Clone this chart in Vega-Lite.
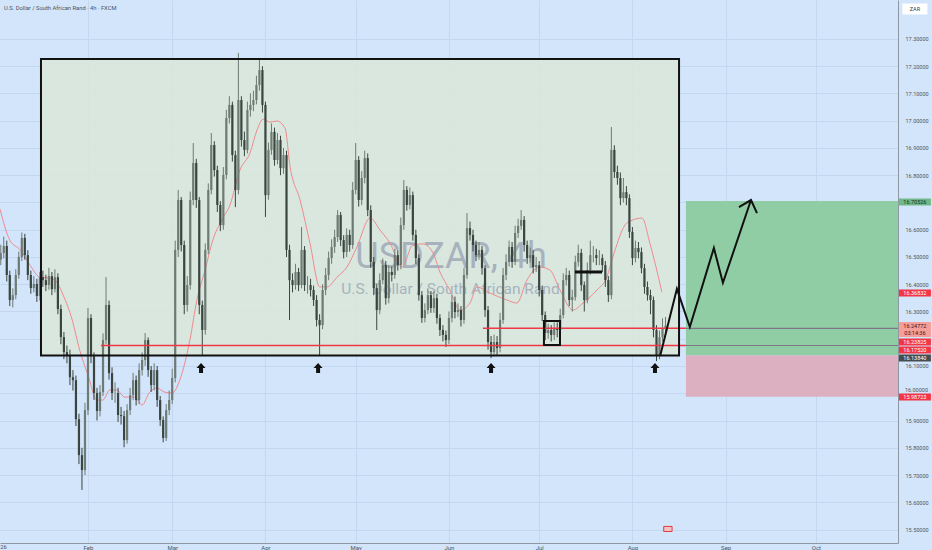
{
  "$schema": "https://vega.github.io/schema/vega-lite/v6.json",
  "width": 898,
  "height": 543,
  "autosize": {"type": "none"},
  "padding": {"left": 0, "top": 0, "right": 34, "bottom": 7},
  "background": "#d2e5fb",
  "config": {"view": {"stroke": null}, "font": "Roboto"},
  "resolve": {"axis": {"x": "independent", "y": "independent"}},
  "datasets": {
    "candles": [
      {"d":"2026-01-03","o":16.490,"h":16.545,"l":16.470,"c":16.515},
      {"d":"2026-01-04","o":16.515,"h":16.575,"l":16.495,"c":16.540},
      {"d":"2026-01-05","o":16.540,"h":16.560,"l":16.410,"c":16.434},
      {"d":"2026-01-06","o":16.434,"h":16.450,"l":16.320,"c":16.342},
      {"d":"2026-01-07","o":16.342,"h":16.385,"l":16.315,"c":16.360},
      {"d":"2026-01-08","o":16.360,"h":16.455,"l":16.345,"c":16.434},
      {"d":"2026-01-09","o":16.434,"h":16.520,"l":16.420,"c":16.500},
      {"d":"2026-01-10","o":16.500,"h":16.590,"l":16.485,"c":16.570},
      {"d":"2026-01-11","o":16.570,"h":16.585,"l":16.490,"c":16.507},
      {"d":"2026-01-12","o":16.507,"h":16.525,"l":16.415,"c":16.434},
      {"d":"2026-01-13","o":16.434,"h":16.450,"l":16.365,"c":16.386},
      {"d":"2026-01-14","o":16.386,"h":16.430,"l":16.370,"c":16.401},
      {"d":"2026-01-15","o":16.401,"h":16.420,"l":16.335,"c":16.357},
      {"d":"2026-01-16","o":16.357,"h":16.445,"l":16.340,"c":16.426},
      {"d":"2026-01-17","o":16.426,"h":16.450,"l":16.390,"c":16.415},
      {"d":"2026-01-18","o":16.415,"h":16.435,"l":16.375,"c":16.397},
      {"d":"2026-01-19","o":16.397,"h":16.460,"l":16.380,"c":16.430},
      {"d":"2026-01-20","o":16.430,"h":16.445,"l":16.360,"c":16.382},
      {"d":"2026-01-21","o":16.382,"h":16.455,"l":16.370,"c":16.426},
      {"d":"2026-01-22","o":16.426,"h":16.440,"l":16.290,"c":16.309},
      {"d":"2026-01-23","o":16.309,"h":16.325,"l":16.180,"c":16.206},
      {"d":"2026-01-24","o":16.206,"h":16.225,"l":16.125,"c":16.151},
      {"d":"2026-01-25","o":16.151,"h":16.175,"l":16.110,"c":16.140},
      {"d":"2026-01-26","o":16.140,"h":16.160,"l":16.030,"c":16.059},
      {"d":"2026-01-27","o":16.059,"h":16.085,"l":16.010,"c":16.048},
      {"d":"2026-01-28","o":16.048,"h":16.065,"l":15.880,"c":15.905},
      {"d":"2026-01-29","o":15.905,"h":15.925,"l":15.740,"c":15.773},
      {"d":"2026-01-30","o":15.773,"h":15.800,"l":15.645,"c":15.718},
      {"d":"2026-01-31","o":15.718,"h":15.965,"l":15.700,"c":15.938},
      {"d":"2026-02-01","o":15.938,"h":16.313,"l":15.920,"c":16.276},
      {"d":"2026-02-02","o":16.276,"h":16.290,"l":16.110,"c":16.136},
      {"d":"2026-02-03","o":16.136,"h":16.150,"l":15.975,"c":16.001},
      {"d":"2026-02-04","o":16.001,"h":16.020,"l":15.900,"c":15.935},
      {"d":"2026-02-05","o":15.935,"h":16.030,"l":15.915,"c":16.004},
      {"d":"2026-02-06","o":16.004,"h":16.220,"l":15.990,"c":16.195},
      {"d":"2026-02-07","o":16.195,"h":16.426,"l":16.180,"c":16.324},
      {"d":"2026-02-08","o":16.324,"h":16.340,"l":16.050,"c":16.074},
      {"d":"2026-02-09","o":16.074,"h":16.095,"l":15.975,"c":16.001},
      {"d":"2026-02-10","o":16.001,"h":16.040,"l":15.965,"c":16.001},
      {"d":"2026-02-11","o":16.001,"h":16.020,"l":15.895,"c":15.920},
      {"d":"2026-02-12","o":15.920,"h":15.950,"l":15.885,"c":15.916},
      {"d":"2026-02-13","o":15.916,"h":15.935,"l":15.802,"c":15.828},
      {"d":"2026-02-14","o":15.828,"h":15.960,"l":15.815,"c":15.938},
      {"d":"2026-02-15","o":15.938,"h":16.020,"l":15.920,"c":15.993},
      {"d":"2026-02-16","o":15.993,"h":16.075,"l":15.975,"c":16.048},
      {"d":"2026-02-17","o":16.048,"h":16.065,"l":15.955,"c":15.975},
      {"d":"2026-02-18","o":15.975,"h":16.110,"l":15.960,"c":16.085},
      {"d":"2026-02-19","o":16.085,"h":16.150,"l":16.065,"c":16.122},
      {"d":"2026-02-20","o":16.122,"h":16.221,"l":16.100,"c":16.195},
      {"d":"2026-02-21","o":16.195,"h":16.205,"l":16.060,"c":16.085},
      {"d":"2026-02-22","o":16.085,"h":16.100,"l":16.005,"c":16.030},
      {"d":"2026-02-23","o":16.030,"h":16.110,"l":16.010,"c":16.085},
      {"d":"2026-02-24","o":16.085,"h":16.100,"l":15.950,"c":15.975},
      {"d":"2026-02-25","o":15.975,"h":15.990,"l":15.880,"c":15.902},
      {"d":"2026-02-26","o":15.902,"h":15.915,"l":15.820,"c":15.836},
      {"d":"2026-02-27","o":15.836,"h":15.960,"l":15.825,"c":15.938},
      {"d":"2026-02-28","o":15.938,"h":16.010,"l":15.920,"c":15.975},
      {"d":"2026-03-01","o":15.975,"h":16.090,"l":15.960,"c":16.056},
      {"d":"2026-03-02","o":16.056,"h":16.560,"l":16.040,"c":16.526},
      {"d":"2026-03-03","o":16.526,"h":16.746,"l":16.500,"c":16.709},
      {"d":"2026-03-04","o":16.709,"h":16.720,"l":16.520,"c":16.544},
      {"d":"2026-03-05","o":16.544,"h":16.560,"l":16.290,"c":16.324},
      {"d":"2026-03-06","o":16.324,"h":16.430,"l":16.300,"c":16.397},
      {"d":"2026-03-07","o":16.397,"h":16.740,"l":16.380,"c":16.709},
      {"d":"2026-03-08","o":16.709,"h":16.918,"l":16.690,"c":16.845},
      {"d":"2026-03-09","o":16.845,"h":16.860,"l":16.680,"c":16.709},
      {"d":"2026-03-10","o":16.709,"h":16.720,"l":16.290,"c":16.324},
      {"d":"2026-03-11","o":16.324,"h":16.340,"l":16.140,"c":16.232},
      {"d":"2026-03-12","o":16.232,"h":16.550,"l":16.215,"c":16.526},
      {"d":"2026-03-13","o":16.526,"h":16.770,"l":16.510,"c":16.746},
      {"d":"2026-03-14","o":16.746,"h":16.955,"l":16.730,"c":16.911},
      {"d":"2026-03-15","o":16.911,"h":16.925,"l":16.795,"c":16.819},
      {"d":"2026-03-16","o":16.819,"h":16.835,"l":16.665,"c":16.691},
      {"d":"2026-03-17","o":16.691,"h":16.705,"l":16.595,"c":16.617},
      {"d":"2026-03-18","o":16.617,"h":16.830,"l":16.600,"c":16.801},
      {"d":"2026-03-19","o":16.801,"h":17.040,"l":16.785,"c":17.010},
      {"d":"2026-03-20","o":17.010,"h":17.090,"l":16.990,"c":17.058},
      {"d":"2026-03-21","o":17.058,"h":17.070,"l":16.850,"c":16.874},
      {"d":"2026-03-22","o":16.874,"h":16.890,"l":16.683,"c":16.746},
      {"d":"2026-03-23","o":16.746,"h":17.249,"l":16.730,"c":17.076},
      {"d":"2026-03-24","o":17.076,"h":17.090,"l":16.905,"c":16.929},
      {"d":"2026-03-25","o":16.929,"h":16.960,"l":16.870,"c":16.893},
      {"d":"2026-03-26","o":16.893,"h":17.070,"l":16.880,"c":17.039},
      {"d":"2026-03-27","o":17.039,"h":17.100,"l":17.015,"c":17.058},
      {"d":"2026-03-28","o":17.058,"h":17.110,"l":17.035,"c":17.076},
      {"d":"2026-03-29","o":17.076,"h":17.165,"l":17.060,"c":17.131},
      {"d":"2026-03-30","o":17.131,"h":17.223,"l":17.110,"c":17.186},
      {"d":"2026-03-31","o":17.186,"h":17.200,"l":17.030,"c":17.058},
      {"d":"2026-04-01","o":17.058,"h":17.070,"l":16.647,"c":16.727},
      {"d":"2026-04-02","o":16.727,"h":16.920,"l":16.710,"c":16.893},
      {"d":"2026-04-03","o":16.893,"h":16.990,"l":16.875,"c":16.959},
      {"d":"2026-04-04","o":16.959,"h":16.975,"l":16.835,"c":16.856},
      {"d":"2026-04-05","o":16.856,"h":16.955,"l":16.840,"c":16.929},
      {"d":"2026-04-06","o":16.929,"h":16.945,"l":16.800,"c":16.826},
      {"d":"2026-04-07","o":16.826,"h":16.900,"l":16.805,"c":16.874},
      {"d":"2026-04-08","o":16.874,"h":16.890,"l":16.500,"c":16.526},
      {"d":"2026-04-09","o":16.526,"h":16.545,"l":16.269,"c":16.415},
      {"d":"2026-04-10","o":16.415,"h":16.440,"l":16.370,"c":16.397},
      {"d":"2026-04-11","o":16.397,"h":16.475,"l":16.380,"c":16.445},
      {"d":"2026-04-12","o":16.445,"h":16.460,"l":16.375,"c":16.397},
      {"d":"2026-04-13","o":16.397,"h":16.610,"l":16.385,"c":16.526},
      {"d":"2026-04-14","o":16.526,"h":16.540,"l":16.375,"c":16.397},
      {"d":"2026-04-15","o":16.397,"h":16.430,"l":16.365,"c":16.397},
      {"d":"2026-04-16","o":16.397,"h":16.420,"l":16.355,"c":16.379},
      {"d":"2026-04-17","o":16.379,"h":16.395,"l":16.320,"c":16.342},
      {"d":"2026-04-18","o":16.342,"h":16.360,"l":16.245,"c":16.269},
      {"d":"2026-04-19","o":16.269,"h":16.290,"l":16.140,"c":16.250},
      {"d":"2026-04-20","o":16.250,"h":16.400,"l":16.235,"c":16.379},
      {"d":"2026-04-21","o":16.379,"h":16.460,"l":16.360,"c":16.434},
      {"d":"2026-04-22","o":16.434,"h":16.520,"l":16.415,"c":16.496},
      {"d":"2026-04-23","o":16.496,"h":16.565,"l":16.475,"c":16.537},
      {"d":"2026-04-24","o":16.537,"h":16.600,"l":16.515,"c":16.573},
      {"d":"2026-04-25","o":16.573,"h":16.672,"l":16.555,"c":16.654},
      {"d":"2026-04-26","o":16.654,"h":16.665,"l":16.540,"c":16.562},
      {"d":"2026-04-27","o":16.562,"h":16.580,"l":16.495,"c":16.518},
      {"d":"2026-04-28","o":16.518,"h":16.605,"l":16.500,"c":16.581},
      {"d":"2026-04-29","o":16.581,"h":16.600,"l":16.520,"c":16.544},
      {"d":"2026-04-30","o":16.544,"h":16.775,"l":16.530,"c":16.746},
      {"d":"2026-05-01","o":16.746,"h":16.918,"l":16.730,"c":16.856},
      {"d":"2026-05-02","o":16.856,"h":16.870,"l":16.685,"c":16.709},
      {"d":"2026-05-03","o":16.709,"h":16.815,"l":16.690,"c":16.790},
      {"d":"2026-05-04","o":16.790,"h":16.890,"l":16.770,"c":16.863},
      {"d":"2026-05-05","o":16.863,"h":16.880,"l":16.650,"c":16.672},
      {"d":"2026-05-06","o":16.672,"h":16.690,"l":16.460,"c":16.482},
      {"d":"2026-05-07","o":16.482,"h":16.500,"l":16.360,"c":16.386},
      {"d":"2026-05-08","o":16.386,"h":16.400,"l":16.232,"c":16.305},
      {"d":"2026-05-09","o":16.305,"h":16.440,"l":16.290,"c":16.415},
      {"d":"2026-05-10","o":16.415,"h":16.495,"l":16.400,"c":16.470},
      {"d":"2026-05-11","o":16.470,"h":16.485,"l":16.325,"c":16.349},
      {"d":"2026-05-12","o":16.349,"h":16.470,"l":16.330,"c":16.445},
      {"d":"2026-05-13","o":16.445,"h":16.465,"l":16.410,"c":16.434},
      {"d":"2026-05-14","o":16.434,"h":16.530,"l":16.420,"c":16.507},
      {"d":"2026-05-15","o":16.507,"h":16.525,"l":16.450,"c":16.470},
      {"d":"2026-05-16","o":16.470,"h":16.645,"l":16.455,"c":16.617},
      {"d":"2026-05-17","o":16.617,"h":16.782,"l":16.600,"c":16.746},
      {"d":"2026-05-18","o":16.746,"h":16.760,"l":16.670,"c":16.691},
      {"d":"2026-05-19","o":16.691,"h":16.755,"l":16.675,"c":16.727},
      {"d":"2026-05-20","o":16.727,"h":16.740,"l":16.560,"c":16.581},
      {"d":"2026-05-21","o":16.581,"h":16.600,"l":16.475,"c":16.496},
      {"d":"2026-05-22","o":16.496,"h":16.510,"l":16.340,"c":16.360},
      {"d":"2026-05-23","o":16.360,"h":16.375,"l":16.258,"c":16.276},
      {"d":"2026-05-24","o":16.276,"h":16.330,"l":16.260,"c":16.305},
      {"d":"2026-05-25","o":16.305,"h":16.385,"l":16.290,"c":16.360},
      {"d":"2026-05-26","o":16.360,"h":16.375,"l":16.295,"c":16.313},
      {"d":"2026-05-27","o":16.313,"h":16.375,"l":16.295,"c":16.349},
      {"d":"2026-05-28","o":16.349,"h":16.365,"l":16.255,"c":16.276},
      {"d":"2026-05-29","o":16.276,"h":16.290,"l":16.210,"c":16.232},
      {"d":"2026-05-30","o":16.232,"h":16.250,"l":16.190,"c":16.214},
      {"d":"2026-05-31","o":16.214,"h":16.230,"l":16.170,"c":16.195},
      {"d":"2026-06-01","o":16.195,"h":16.300,"l":16.180,"c":16.276},
      {"d":"2026-06-02","o":16.276,"h":16.360,"l":16.260,"c":16.335},
      {"d":"2026-06-03","o":16.335,"h":16.355,"l":16.275,"c":16.298},
      {"d":"2026-06-04","o":16.298,"h":16.330,"l":16.280,"c":16.305},
      {"d":"2026-06-05","o":16.305,"h":16.320,"l":16.245,"c":16.269},
      {"d":"2026-06-06","o":16.269,"h":16.460,"l":16.255,"c":16.434},
      {"d":"2026-06-07","o":16.434,"h":16.661,"l":16.420,"c":16.606},
      {"d":"2026-06-08","o":16.606,"h":16.630,"l":16.560,"c":16.581},
      {"d":"2026-06-09","o":16.581,"h":16.600,"l":16.520,"c":16.544},
      {"d":"2026-06-10","o":16.544,"h":16.560,"l":16.485,"c":16.507},
      {"d":"2026-06-11","o":16.507,"h":16.555,"l":16.490,"c":16.526},
      {"d":"2026-06-12","o":16.526,"h":16.540,"l":16.435,"c":16.459},
      {"d":"2026-06-13","o":16.459,"h":16.470,"l":16.280,"c":16.305},
      {"d":"2026-06-14","o":16.305,"h":16.320,"l":16.160,"c":16.188},
      {"d":"2026-06-15","o":16.188,"h":16.210,"l":16.129,"c":16.151},
      {"d":"2026-06-16","o":16.151,"h":16.215,"l":16.135,"c":16.188},
      {"d":"2026-06-17","o":16.188,"h":16.210,"l":16.140,"c":16.166},
      {"d":"2026-06-18","o":16.166,"h":16.295,"l":16.150,"c":16.269},
      {"d":"2026-06-19","o":16.269,"h":16.460,"l":16.255,"c":16.434},
      {"d":"2026-06-20","o":16.434,"h":16.510,"l":16.415,"c":16.482},
      {"d":"2026-06-21","o":16.482,"h":16.560,"l":16.465,"c":16.537},
      {"d":"2026-06-22","o":16.537,"h":16.555,"l":16.460,"c":16.482},
      {"d":"2026-06-23","o":16.482,"h":16.615,"l":16.470,"c":16.588},
      {"d":"2026-06-24","o":16.588,"h":16.640,"l":16.570,"c":16.614},
      {"d":"2026-06-25","o":16.614,"h":16.672,"l":16.600,"c":16.636},
      {"d":"2026-06-26","o":16.636,"h":16.650,"l":16.520,"c":16.544},
      {"d":"2026-06-27","o":16.544,"h":16.560,"l":16.475,"c":16.496},
      {"d":"2026-06-28","o":16.496,"h":16.535,"l":16.480,"c":16.507},
      {"d":"2026-06-29","o":16.507,"h":16.525,"l":16.440,"c":16.463},
      {"d":"2026-06-30","o":16.463,"h":16.500,"l":16.445,"c":16.470},
      {"d":"2026-07-01","o":16.470,"h":16.485,"l":16.355,"c":16.379},
      {"d":"2026-07-02","o":16.379,"h":16.395,"l":16.265,"c":16.287},
      {"d":"2026-07-03","o":16.287,"h":16.300,"l":16.195,"c":16.221},
      {"d":"2026-07-04","o":16.221,"h":16.255,"l":16.200,"c":16.232},
      {"d":"2026-07-05","o":16.232,"h":16.250,"l":16.190,"c":16.214},
      {"d":"2026-07-06","o":16.214,"h":16.260,"l":16.195,"c":16.239},
      {"d":"2026-07-07","o":16.239,"h":16.260,"l":16.205,"c":16.232},
      {"d":"2026-07-08","o":16.232,"h":16.310,"l":16.215,"c":16.287},
      {"d":"2026-07-09","o":16.287,"h":16.440,"l":16.275,"c":16.415},
      {"d":"2026-07-10","o":16.415,"h":16.460,"l":16.395,"c":16.434},
      {"d":"2026-07-11","o":16.434,"h":16.450,"l":16.320,"c":16.342},
      {"d":"2026-07-12","o":16.342,"h":16.380,"l":16.300,"c":16.353},
      {"d":"2026-07-13","o":16.353,"h":16.505,"l":16.340,"c":16.482},
      {"d":"2026-07-14","o":16.482,"h":16.545,"l":16.465,"c":16.515},
      {"d":"2026-07-15","o":16.515,"h":16.530,"l":16.375,"c":16.397},
      {"d":"2026-07-16","o":16.397,"h":16.410,"l":16.300,"c":16.342},
      {"d":"2026-07-17","o":16.342,"h":16.480,"l":16.330,"c":16.452},
      {"d":"2026-07-18","o":16.452,"h":16.560,"l":16.435,"c":16.507},
      {"d":"2026-07-19","o":16.507,"h":16.540,"l":16.480,"c":16.507},
      {"d":"2026-07-20","o":16.507,"h":16.530,"l":16.470,"c":16.496},
      {"d":"2026-07-21","o":16.496,"h":16.525,"l":16.470,"c":16.496},
      {"d":"2026-07-22","o":16.496,"h":16.510,"l":16.445,"c":16.470},
      {"d":"2026-07-23","o":16.470,"h":16.485,"l":16.390,"c":16.415},
      {"d":"2026-07-24","o":16.415,"h":16.430,"l":16.335,"c":16.360},
      {"d":"2026-07-25","o":16.360,"h":16.977,"l":16.345,"c":16.893},
      {"d":"2026-07-26","o":16.893,"h":16.910,"l":16.790,"c":16.812},
      {"d":"2026-07-27","o":16.812,"h":16.835,"l":16.765,"c":16.790},
      {"d":"2026-07-28","o":16.790,"h":16.810,"l":16.690,"c":16.716},
      {"d":"2026-07-29","o":16.716,"h":16.790,"l":16.700,"c":16.738},
      {"d":"2026-07-30","o":16.738,"h":16.760,"l":16.690,"c":16.716},
      {"d":"2026-07-31","o":16.716,"h":16.730,"l":16.570,"c":16.592},
      {"d":"2026-08-01","o":16.592,"h":16.610,"l":16.470,"c":16.496},
      {"d":"2026-08-02","o":16.496,"h":16.560,"l":16.480,"c":16.533},
      {"d":"2026-08-03","o":16.533,"h":16.555,"l":16.495,"c":16.518},
      {"d":"2026-08-04","o":16.518,"h":16.535,"l":16.440,"c":16.459},
      {"d":"2026-08-05","o":16.459,"h":16.475,"l":16.365,"c":16.390},
      {"d":"2026-08-06","o":16.390,"h":16.410,"l":16.340,"c":16.360},
      {"d":"2026-08-07","o":16.360,"h":16.380,"l":16.290,"c":16.342},
      {"d":"2026-08-08","o":16.342,"h":16.355,"l":16.205,"c":16.232},
      {"d":"2026-08-09","o":16.232,"h":16.250,"l":16.118,"c":16.140},
      {"d":"2026-08-10","o":16.140,"h":16.230,"l":16.125,"c":16.206},
      {"d":"2026-08-11","o":16.206,"h":16.275,"l":16.190,"c":16.239},
      {"d":"2026-08-12","o":16.239,"h":16.280,"l":16.225,"c":16.248}
    ],
    "ma": [
      {"t":"2026-01-02T18:00:00Z","p":16.676},
      {"t":"2026-01-06T00:00:00Z","p":16.562},
      {"t":"2026-01-09T12:00:00Z","p":16.526},
      {"t":"2026-01-12T18:00:00Z","p":16.470},
      {"t":"2026-01-16T00:00:00Z","p":16.426},
      {"t":"2026-01-18T18:00:00Z","p":16.423},
      {"t":"2026-01-21T00:00:00Z","p":16.415},
      {"t":"2026-01-23T18:00:00Z","p":16.360},
      {"t":"2026-01-26T18:00:00Z","p":16.269},
      {"t":"2026-01-29T06:00:00Z","p":16.158},
      {"t":"2026-02-01T00:00:00Z","p":16.067},
      {"t":"2026-02-04T00:00:00Z","p":15.975},
      {"t":"2026-02-06T00:00:00Z","p":15.975},
      {"t":"2026-02-08T06:00:00Z","p":16.012},
      {"t":"2026-02-10T12:00:00Z","p":16.012},
      {"t":"2026-02-13T06:00:00Z","p":15.986},
      {"t":"2026-02-16T12:00:00Z","p":15.986},
      {"t":"2026-02-19T00:00:00Z","p":15.957},
      {"t":"2026-02-21T12:00:00Z","p":16.004},
      {"t":"2026-02-24T00:00:00Z","p":16.019},
      {"t":"2026-02-26T12:00:00Z","p":16.004},
      {"t":"2026-03-01T00:00:00Z","p":16.001},
      {"t":"2026-03-03T12:00:00Z","p":16.048},
      {"t":"2026-03-06T21:00:00Z","p":16.195},
      {"t":"2026-03-09T05:00:00Z","p":16.342},
      {"t":"2026-03-11T22:00:00Z","p":16.452},
      {"t":"2026-03-14T12:00:00Z","p":16.562},
      {"t":"2026-03-17T12:00:00Z","p":16.636},
      {"t":"2026-03-20T05:00:00Z","p":16.691},
      {"t":"2026-03-23T12:00:00Z","p":16.819},
      {"t":"2026-03-26T21:00:00Z","p":16.882},
      {"t":"2026-03-29T05:00:00Z","p":16.966},
      {"t":"2026-03-31T05:00:00Z","p":17.006},
      {"t":"2026-04-02T12:00:00Z","p":16.995},
      {"t":"2026-04-04T19:00:00Z","p":16.999},
      {"t":"2026-04-07T12:00:00Z","p":16.973},
      {"t":"2026-04-09T05:00:00Z","p":16.830},
      {"t":"2026-04-12T12:00:00Z","p":16.709},
      {"t":"2026-04-15T19:00:00Z","p":16.551},
      {"t":"2026-04-19T02:00:00Z","p":16.390},
      {"t":"2026-04-21T12:00:00Z","p":16.390},
      {"t":"2026-04-24T19:00:00Z","p":16.426},
      {"t":"2026-04-28T02:00:00Z","p":16.463},
      {"t":"2026-05-01T10:00:00Z","p":16.537},
      {"t":"2026-05-05T19:00:00Z","p":16.643},
      {"t":"2026-05-09T02:00:00Z","p":16.599},
      {"t":"2026-05-12T10:00:00Z","p":16.551},
      {"t":"2026-05-16T10:00:00Z","p":16.463},
      {"t":"2026-05-20T00:00:00Z","p":16.544},
      {"t":"2026-05-23T10:00:00Z","p":16.548},
      {"t":"2026-05-26T17:00:00Z","p":16.515},
      {"t":"2026-05-29T00:00:00Z","p":16.445},
      {"t":"2026-06-01T07:00:00Z","p":16.379},
      {"t":"2026-06-04T17:00:00Z","p":16.305},
      {"t":"2026-06-08T00:00:00Z","p":16.331},
      {"t":"2026-06-10T07:00:00Z","p":16.390},
      {"t":"2026-06-14T14:00:00Z","p":16.368},
      {"t":"2026-06-20T07:00:00Z","p":16.342},
      {"t":"2026-06-23T14:00:00Z","p":16.331},
      {"t":"2026-06-26T22:00:00Z","p":16.415},
      {"t":"2026-07-01T07:00:00Z","p":16.463},
      {"t":"2026-07-04T14:00:00Z","p":16.452},
      {"t":"2026-07-07T22:00:00Z","p":16.379},
      {"t":"2026-07-12T05:00:00Z","p":16.305},
      {"t":"2026-07-15T14:00:00Z","p":16.331},
      {"t":"2026-07-20T05:00:00Z","p":16.379},
      {"t":"2026-07-23T12:00:00Z","p":16.426},
      {"t":"2026-07-25T12:00:00Z","p":16.500},
      {"t":"2026-07-30T05:00:00Z","p":16.625},
      {"t":"2026-08-04T05:00:00Z","p":16.643},
      {"t":"2026-08-06T19:00:00Z","p":16.551},
      {"t":"2026-08-10T19:00:00Z","p":16.371}
    ],
    "tags": [
      {"label":"16.70526","kind":"target","p":16.702},
      {"label":"16.36832","kind":"red","p":16.368},
      {"label":"16.24772","kind":"last","p":16.247},
      {"label":"03:14:36","kind":"timer","p":16.221},
      {"label":"16.23825","kind":"red","p":16.188},
      {"label":"16.17520","kind":"red","p":16.159},
      {"label":"16.13840","kind":"entry","p":16.129},
      {"label":"15.98723","kind":"red","p":15.986}
    ],
    "zones": [
      {"a":"2026-08-18T19:00:00Z","b":"2026-10-28T07:00:00Z","lo":16.1384,"hi":16.70526,"zone":"target"},
      {"a":"2026-08-18T19:00:00Z","b":"2026-10-28T07:00:00Z","lo":15.98723,"hi":16.1384,"zone":"stop"}
    ]
  },
  "layer": [
    {
      "data": {"values": [{"a":"2026-01-16T09:00:00Z","b":"2026-08-16T12:00:00Z","lo":16.1384,"hi":17.2265}]},
      "mark": {"type": "rect", "fill": "#dae8d9", "fillOpacity": 0.85},
      "encoding": {
        "x": {
          "field": "a", "type": "temporal", "title": null,
          "scale": {"type": "utc", "nice": false, "padding": 0, "domain": [{"year":2026,"month":1,"date":2,"hours":18,"utc":true},{"year":2026,"month":10,"date":28,"hours":7,"utc":true}]},
          "axis": {
            "title": null, "orient": "bottom",
            "values": [
              {"year":2026,"month":2,"date":1,"utc":true},{"year":2026,"month":3,"date":1,"utc":true},
              {"year":2026,"month":4,"date":1,"utc":true},{"year":2026,"month":5,"date":1,"utc":true},
              {"year":2026,"month":6,"date":1,"utc":true},{"year":2026,"month":7,"date":1,"utc":true},
              {"year":2026,"month":8,"date":1,"utc":true},{"year":2026,"month":9,"date":1,"utc":true},
              {"year":2026,"month":10,"date":1,"utc":true}
            ],
            "labelExpr": "utcFormat(datum.value, '%b')",
            "labelFontSize": 6, "labelColor": "#4d5560", "labelPadding": 1,
            "ticks": false, "domainColor": "#8e98a2",
            "grid": true, "gridColor": "#c3d8f0",
            "labelFlush": false, "labelOverlap": false
          }
        },
        "x2": {"field": "b"},
        "y": {
          "field": "lo", "type": "quantitative", "title": null,
          "scale": {"domain": [15.4505, 17.443], "zero": false, "nice": false, "padding": 0},
          "axis": {
            "title": null, "orient": "right",
            "values": [15.5,15.6,15.7,15.8,15.9,16.0,16.1,16.2,16.3,16.4,16.5,16.6,16.7,16.8,16.9,17.0,17.1,17.2,17.3],
            "labelExpr": "(abs(datum.value-16.2)<0.01 || abs(datum.value-16.7)<0.01 || abs(datum.value-16.0)<0.01) ? '' : format(datum.value,'.5f')",
            "labelFontSize": 5.5, "labelColor": "#4d5560", "labelPadding": 7,
            "ticks": false, "domainColor": "#8e98a2",
            "grid": true, "gridColor": "#c3d8f0",
            "labelFlush": false, "labelOverlap": false
          }
        },
        "y2": {"field": "hi"}
      }
    },
    {
      "data": {"name": "zones"},
      "transform": [{"filter": "datum.zone == 'target'"}],
      "mark": {"type": "rect", "fill": "#90cda5"},
      "encoding": {
        "x": {"field": "a", "type": "temporal", "axis": null},
        "x2": {"field": "b"},
        "y": {"field": "lo", "type": "quantitative", "axis": null},
        "y2": {"field": "hi"}
      }
    },
    {
      "data": {"name": "zones"},
      "transform": [{"filter": "datum.zone == 'stop'"}],
      "mark": {"type": "rect", "fill": "#dcb0c0"},
      "encoding": {
        "x": {"field": "a", "type": "temporal", "axis": null},
        "x2": {"field": "b"},
        "y": {"field": "lo", "type": "quantitative", "axis": null},
        "y2": {"field": "hi"}
      }
    },
    {
      "data": {"values": [
        {"t":"2026-06-01T17:00:00Z","p":16.459,"txt":"USDZAR, 4h","size":"big"},
        {"t":"2026-06-01T12:00:00Z","p":16.364,"txt":"U.S. Dollar / South African Rand","size":"small"}
      ]},
      "mark": {"type": "text", "align": "center", "baseline": "alphabetic", "color": "#8a93a8", "opacity": 0.62, "font": "Roboto"},
      "encoding": {
        "x": {"field": "t", "type": "temporal", "axis": null},
        "y": {"field": "p", "type": "quantitative", "axis": null},
        "text": {"field": "txt"},
        "size": {"field": "size", "type": "nominal", "legend": null, "scale": {"domain": ["big","small"], "range": [36, 15.5]}}
      }
    },
    {
      "mark": {"type": "rule", "color": "#f23645", "strokeWidth": 0.8, "strokeDash": [1, 2], "opacity": 0.45},
      "encoding": {"y": {"datum": 16.24772, "type": "quantitative", "axis": null}}
    },
    {
      "data": {"name": "ma"},
      "mark": {"type": "line", "color": "#f08a8c", "strokeWidth": 1, "interpolate": "monotone"},
      "encoding": {
        "x": {"field": "t", "type": "temporal", "axis": null},
        "y": {"field": "p", "type": "quantitative", "axis": null}
      }
    },
    {
      "data": {"name": "candles"},
      "encoding": {
        "x": {"field": "d", "type": "temporal", "axis": null},
        "color": {"condition": {"test": "datum.c >= datum.o", "value": "#6e7a74"}, "value": "#3a4540"}
      },
      "layer": [
        {"mark": {"type": "rule", "strokeWidth": 1}, "encoding": {"y": {"field": "l", "type": "quantitative", "axis": null}, "y2": {"field": "h"}}},
        {"mark": {"type": "bar", "width": 2.2}, "encoding": {"y": {"field": "o", "type": "quantitative", "axis": null}, "y2": {"field": "c"}}}
      ]
    },
    {
      "data": {"values": [
        {"a":"2026-02-05T07:00:00Z","b":"2026-08-18T19:00:00Z","p":16.1752},
        {"a":"2026-06-12T07:00:00Z","b":"2026-08-18T19:00:00Z","p":16.23825}
      ]},
      "mark": {"type": "rule", "color": "#f23645", "strokeWidth": 1.6},
      "encoding": {
        "x": {"field": "a", "type": "temporal", "axis": null},
        "x2": {"field": "b"},
        "y": {"field": "p", "type": "quantitative", "axis": null}
      }
    },
    {
      "data": {"values": [
        {"a":"2026-08-18T19:00:00Z","b":"2026-10-28T07:00:00Z","p":16.1752},
        {"a":"2026-08-18T19:00:00Z","b":"2026-10-28T07:00:00Z","p":16.23825}
      ]},
      "mark": {"type": "rule", "color": "#7d7886", "strokeWidth": 1.2},
      "encoding": {
        "x": {"field": "a", "type": "temporal", "axis": null},
        "x2": {"field": "b"},
        "y": {"field": "p", "type": "quantitative", "axis": null}
      }
    },
    {
      "data": {"values": [
        {"a":"2026-01-16T09:00:00Z","b":"2026-08-16T12:00:00Z","lo":16.1384,"hi":17.2265},
        {"a":"2026-07-02T14:00:00Z","b":"2026-07-07T22:00:00Z","lo":16.177,"hi":16.265}
      ]},
      "mark": {"type": "rect", "fill": null, "fillOpacity": 0, "stroke": "#111111", "strokeWidth": 2},
      "encoding": {
        "x": {"field": "a", "type": "temporal", "axis": null},
        "x2": {"field": "b"},
        "y": {"field": "lo", "type": "quantitative", "axis": null},
        "y2": {"field": "hi"}
      }
    },
    {
      "data": {"values": [{"a":"2026-07-12T22:00:00Z","b":"2026-07-21T22:00:00Z","p":16.445}]},
      "mark": {"type": "rule", "color": "#111111", "strokeWidth": 3},
      "encoding": {
        "x": {"field": "a", "type": "temporal", "axis": null},
        "x2": {"field": "b"},
        "y": {"field": "p", "type": "quantitative", "axis": null}
      }
    },
    {
      "data": {"values": [
        {"g":"path","i":1,"t":"2026-08-10T05:00:00Z","p":16.137},
        {"g":"path","i":2,"t":"2026-08-15T19:00:00Z","p":16.383},
        {"g":"path","i":3,"t":"2026-08-20T02:00:00Z","p":16.243},
        {"g":"path","i":4,"t":"2026-08-28T02:00:00Z","p":16.533},
        {"g":"path","i":5,"t":"2026-08-31T02:00:00Z","p":16.405},
        {"g":"path","i":6,"t":"2026-09-09T10:00:00Z","p":16.709},
        {"g":"head","i":1,"t":"2026-09-05T10:00:00Z","p":16.683},
        {"g":"head","i":2,"t":"2026-09-09T10:00:00Z","p":16.709},
        {"g":"head","i":3,"t":"2026-09-11T10:00:00Z","p":16.661}
      ]},
      "mark": {"type": "line", "color": "#111111", "strokeWidth": 2, "strokeJoin": "miter"},
      "encoding": {
        "x": {"field": "t", "type": "temporal", "axis": null},
        "y": {"field": "p", "type": "quantitative", "axis": null},
        "detail": {"field": "g"},
        "order": {"field": "i"}
      }
    },
    {
      "data": {"values": [
        {"t":"2026-03-10T14:00:00Z","p":16.093},
        {"t":"2026-04-18T12:00:00Z","p":16.093},
        {"t":"2026-06-15T00:00:00Z","p":16.093},
        {"t":"2026-08-08T12:00:00Z","p":16.093}
      ]},
      "mark": {"type": "point", "filled": true, "color": "#111111", "opacity": 1, "size": 100, "shape": "M0,-1 L0.9,0 L0.4,0 L0.4,1 L-0.4,1 L-0.4,0 L-0.9,0 Z"},
      "encoding": {
        "x": {"field": "t", "type": "temporal", "axis": null},
        "y": {"field": "p", "type": "quantitative", "axis": null}
      }
    },
    {
      "data": {"values": [{"t":"2026-08-12T19:00:00Z","p":15.502}]},
      "mark": {"type": "point", "filled": true, "fill": "#f6c1c3", "stroke": "#e03c3f", "strokeWidth": 1, "opacity": 1, "size": 70, "shape": "M-1,-0.6 H1 V0.6 H-1 Z"},
      "encoding": {
        "x": {"field": "t", "type": "temporal", "axis": null},
        "y": {"field": "p", "type": "quantitative", "axis": null}
      }
    },
    {
      "data": {"values": [{"t":"2026-10-30T14:00:00Z","p":16.012,"txt":"16.00000"}]},
      "mark": {"type": "text", "align": "left", "baseline": "middle", "fontSize": 5.5, "color": "#4d5560"},
      "encoding": {
        "x": {"field": "t", "type": "temporal", "axis": null},
        "y": {"field": "p", "type": "quantitative", "axis": null},
        "text": {"field": "txt"}
      }
    },
    {
      "data": {"name": "tags"},
      "transform": [{"filter": "datum.kind != 'timer' && datum.kind != 'last'"}],
      "mark": {"type": "point", "filled": true, "opacity": 1, "size": 1024, "shape": "M-1,-0.22 H1 V0.22 H-1 Z"},
      "encoding": {
        "x": {"datum": {"year":2026,"month":11,"date":2,"hours":22,"utc":true}, "type": "temporal", "axis": null},
        "y": {"field": "p", "type": "quantitative", "axis": null},
        "color": {"field": "kind", "type": "nominal", "legend": null, "scale": {"domain": ["target","red","entry"], "range": ["#6fb889","#f23645","#474c50"]}}
      }
    },
    {
      "data": {"name": "tags"},
      "transform": [{"filter": "datum.kind == 'last'"}],
      "mark": {"type": "point", "filled": true, "opacity": 1, "size": 1024, "fill": "#f59f9a", "shape": "M-1,-0.25 H1 V0.69 H-1 Z"},
      "encoding": {
        "x": {"datum": {"year":2026,"month":11,"date":2,"hours":22,"utc":true}, "type": "temporal", "axis": null},
        "y": {"field": "p", "type": "quantitative", "axis": null}
      }
    },
    {
      "data": {"name": "tags"},
      "mark": {"type": "text", "align": "center", "baseline": "middle", "fontSize": 5.5},
      "encoding": {
        "x": {"datum": {"year":2026,"month":11,"date":2,"hours":22,"utc":true}, "type": "temporal", "axis": null},
        "y": {"field": "p", "type": "quantitative", "axis": null},
        "text": {"field": "label"},
        "fill": {"field": "kind", "type": "nominal", "legend": null, "scale": {"domain": ["target","red","entry","last","timer"], "range": ["#173322","#ffffff","#ffffff","#4a1212","#4a1212"]}}
      }
    },
    {
      "data": {"values": [{"t":"2026-11-02T22:00:00Z","p":17.41,"txt":"ZAR"}]},
      "layer": [
        {"mark": {"type": "point", "filled": true, "fill": "#ffffff", "opacity": 1, "size": 625, "shape": "M-1,-0.44 H1 V0.44 H-1 Z"}},
        {"mark": {"type": "text", "fontSize": 5.5, "color": "#3b4048", "align": "center", "baseline": "middle"}, "encoding": {"text": {"field": "txt"}}}
      ],
      "encoding": {
        "x": {"field": "t", "type": "temporal", "axis": null},
        "y": {"field": "p", "type": "quantitative", "axis": null}
      }
    },
    {
      "data": {"values": [
        {"t":"2026-01-04T02:00:00Z","p":17.414,"txt":"U.S. Dollar / South African Rand · 4h · FXCM"},
        {"t":"2026-01-02T20:00:00Z","p":15.436,"txt":"26"}
      ]},
      "mark": {"type": "text", "align": "left", "baseline": "middle", "fontSize": 5.8, "color": "#4a525c"},
      "encoding": {
        "x": {"field": "t", "type": "temporal", "axis": null},
        "y": {"field": "p", "type": "quantitative", "axis": null},
        "text": {"field": "txt"}
      }
    }
  ]
}
